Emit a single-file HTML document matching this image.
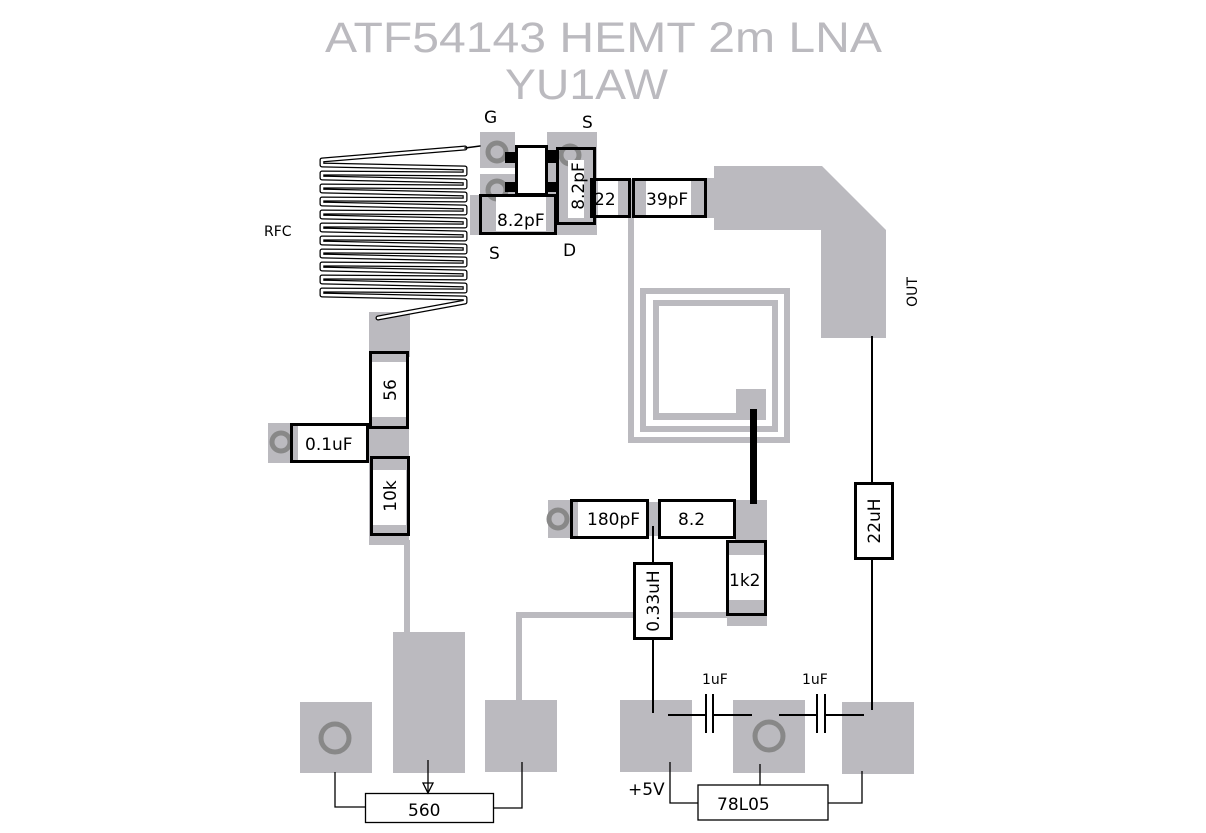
<!DOCTYPE html>
<html><head><meta charset="utf-8"><style>
html,body{margin:0;padding:0;background:#fff;width:1206px;height:833px;overflow:hidden}
svg{display:block}
text{font-family:"DejaVu Sans","Liberation Sans",sans-serif}
</style></head><body>
<svg width="1206" height="833" viewBox="0 0 1206 833" xmlns="http://www.w3.org/2000/svg">
<!-- Title -->
<text x="325" y="52" font-size="43" fill="#bbbabf" textLength="557" lengthAdjust="spacingAndGlyphs" style="font-family:'Liberation Sans',sans-serif">ATF54143 HEMT 2m LNA</text>
<text x="505" y="99" font-size="43" fill="#bbbabf" textLength="163" lengthAdjust="spacingAndGlyphs" style="font-family:'Liberation Sans',sans-serif">YU1AW</text>

<g fill="#bbbabf">
<polygon points="714,166 822,166 886,230 886,338 821,338 821,230 714,230"/>
<rect x="706" y="178" width="10" height="40"/>
<rect x="628" y="217" width="6" height="226"/>
<rect x="628" y="437" width="162" height="6"/>
<rect x="784" y="288" width="6" height="155"/>
<rect x="640" y="288" width="150" height="6"/>
<rect x="640" y="288" width="6" height="144"/>
<rect x="640" y="426" width="138" height="6"/>
<rect x="772" y="300" width="6" height="132"/>
<rect x="653" y="300" width="125" height="6"/>
<rect x="653" y="300" width="6" height="120"/>
<rect x="653" y="413" width="113" height="7"/>
<rect x="736" y="389" width="30" height="31"/>
<rect x="480" y="132" width="35" height="36"/>
<rect x="480" y="174" width="35" height="36"/>
<rect x="547" y="132" width="50" height="103"/>
<rect x="470" y="195" width="86" height="40"/>
<rect x="590" y="179" width="116" height="38"/>
<rect x="369" y="312" width="41" height="45"/>
<rect x="369" y="352" width="40" height="193"/>
<rect x="268" y="423" width="30" height="40"/>
<rect x="404" y="540" width="6" height="95"/>
<rect x="393" y="632" width="72" height="141"/>
<rect x="300" y="702" width="72" height="71"/>
<rect x="485" y="700" width="72" height="72"/>
<rect x="516" y="612" width="6" height="90"/>
<rect x="516" y="612" width="214" height="6"/>
<rect x="548" y="500" width="30" height="38"/>
<rect x="648" y="502" width="12" height="34"/>
<rect x="735" y="500" width="32" height="45"/>
<rect x="727" y="541" width="40" height="85"/>
<rect x="620" y="700" width="72" height="72"/>
<rect x="733" y="700" width="72" height="73"/>
<rect x="842" y="702" width="72" height="72"/>
</g>

<g fill="none" stroke="#888" stroke-width="5">
<circle cx="497" cy="152" r="9"/>
<circle cx="497" cy="190" r="9"/>
<circle cx="570" cy="155" r="9"/>
<circle cx="281" cy="442" r="9"/>
<circle cx="558" cy="519" r="9"/>
<circle cx="335" cy="738" r="14"/>
<circle cx="769" cy="736" r="14"/>
</g>

<g fill="none" stroke-linejoin="round" stroke-linecap="round">
<polyline points="465,148 322,160 322,165 465,168 465,174 322,173 322,178 465,181 465,187 322,186 322,191 465,194 465,200 322,199 322,204 465,207 465,213 322,212 322,217 465,220 465,226 322,225 322,230 465,233 465,239 322,238 322,243 465,246 465,252 322,251 322,256 465,259 465,265 322,264 322,269 465,272 465,278 322,277 322,282 465,285 465,291 322,290 322,295 465,298 465,302 378,318" stroke="#000" stroke-width="5"/>
<polyline points="465,148 322,160 322,165 465,168 465,174 322,173 322,178 465,181 465,187 322,186 322,191 465,194 465,200 322,199 322,204 465,207 465,213 322,212 322,217 465,220 465,226 322,225 322,230 465,233 465,239 322,238 322,243 465,246 465,252 322,251 322,256 465,259 465,265 322,264 322,269 465,272 465,278 322,277 322,282 465,285 465,291 322,290 322,295 465,298 465,302 378,318" stroke="#fff" stroke-width="2.5"/>
<line x1="465" y1="148" x2="480" y2="146" stroke="#000" stroke-width="1.5"/>
</g>

<rect x="516.5" y="146.5" width="30" height="48" fill="#fff" stroke="#000" stroke-width="3"/>
<g fill="#000">
<rect x="505" y="152" width="11" height="11"/>
<rect x="505" y="182" width="11" height="10"/>
<rect x="547" y="150" width="10" height="13"/>
<rect x="547" y="182" width="10" height="10"/>
</g>

<g fill="#fff">
<rect x="568" y="160" width="16" height="58"/>
<rect x="496" y="197" width="50" height="34"/>
<rect x="598" y="181" width="20" height="34"/>
<rect x="646" y="181" width="45" height="34"/>
<rect x="372" y="362" width="34" height="55"/>
<rect x="308" y="426" width="48" height="34"/>
<rect x="372" y="470" width="34" height="55"/>
<rect x="588" y="502" width="45" height="34"/>
<rect x="675" y="502" width="45" height="34"/>
<rect x="729" y="555" width="35" height="45"/>
<rect x="636" y="565" width="34" height="71"/>
<rect x="857" y="485" width="34" height="71"/>
</g>
<g fill="none" stroke="#000" stroke-width="3">
<rect x="557.5" y="148.5" width="37" height="75"/>
<rect x="480.5" y="195.5" width="75" height="38"/>
<rect x="591.5" y="179.5" width="38" height="37"/>
<rect x="633.5" y="179.5" width="72" height="37"/>
<rect x="370.5" y="352.5" width="37" height="75"/>
<rect x="291.5" y="424.5" width="76" height="37"/>
<rect x="371.5" y="457.5" width="37" height="77"/>
<rect x="571.5" y="500.5" width="76" height="37"/>
<rect x="659.5" y="500.5" width="75" height="37"/>
<rect x="727.5" y="541.5" width="38" height="73"/>
<rect x="634.5" y="563.5" width="37" height="75"/>
<rect x="855.5" y="483.5" width="37" height="75"/>
</g>
<rect x="750" y="409" width="7" height="95" fill="#000"/>

<g stroke="#000" stroke-width="2" fill="none">
<line x1="872" y1="336" x2="872" y2="483"/>
<line x1="872" y1="558" x2="872" y2="710"/>
<line x1="653" y1="526" x2="653" y2="563"/>
<line x1="653" y1="638" x2="653" y2="713"/>
<line x1="668" y1="715" x2="706" y2="715"/>
<line x1="713" y1="715" x2="752" y2="715"/>
<line x1="779" y1="715" x2="817" y2="715"/>
<line x1="825" y1="715" x2="864" y2="715"/>
<line x1="706" y1="694" x2="706" y2="733"/>
<line x1="713" y1="694" x2="713" y2="733"/>
<line x1="817" y1="694" x2="817" y2="733"/>
<line x1="825" y1="694" x2="825" y2="733"/>
</g>
<g stroke="#000" stroke-width="1.3" fill="none">
<polyline points="670,762 670,803 698,803"/>
<line x1="760" y1="764" x2="760" y2="785"/>
<polyline points="862,771 862,803 828,803"/>
<rect x="698" y="785" width="130" height="35" fill="#fff"/>
<polyline points="335,772 335,807 365,807"/>
<polyline points="522,762 522,808 493,808"/>
<rect x="365.5" y="793.5" width="128" height="29" fill="#fff"/>
<line x1="428" y1="760" x2="428" y2="793"/>
<polygon points="423,783 433,783 428,793"/>
</g>

<g font-size="17" fill="#000">
<text x="484" y="123">G</text>
<text x="582" y="128">S</text>
<text x="489" y="259">S</text>
<text x="563" y="256">D</text>
<text x="264" y="236" font-size="14">RFC</text>
<text x="497" y="226">8.2pF</text>
<text x="594" y="205">22</text>
<text x="646" y="205">39pF</text>
<text x="305" y="450">0.1uF</text>
<text x="587" y="525">180pF</text>
<text x="678" y="525">8.2</text>
<text x="729" y="586">1k2</text>
<text x="702" y="684" font-size="14">1uF</text>
<text x="802" y="684" font-size="14">1uF</text>
<text x="628" y="795">+5V</text>
<text x="717" y="810">78L05</text>
<text x="408" y="816">560</text>
<text transform="translate(584,186) rotate(-90)" text-anchor="middle">8.2pF</text>
<text transform="translate(396,390) rotate(-90)" text-anchor="middle">56</text>
<text transform="translate(396,496) rotate(-90)" text-anchor="middle">10k</text>
<text transform="translate(659,601) rotate(-90)" text-anchor="middle">0.33uH</text>
<text transform="translate(880,521) rotate(-90)" text-anchor="middle">22uH</text>
<text transform="translate(917,292) rotate(-90)" text-anchor="middle" font-size="14">OUT</text>
</g>
</svg>
</body></html>
